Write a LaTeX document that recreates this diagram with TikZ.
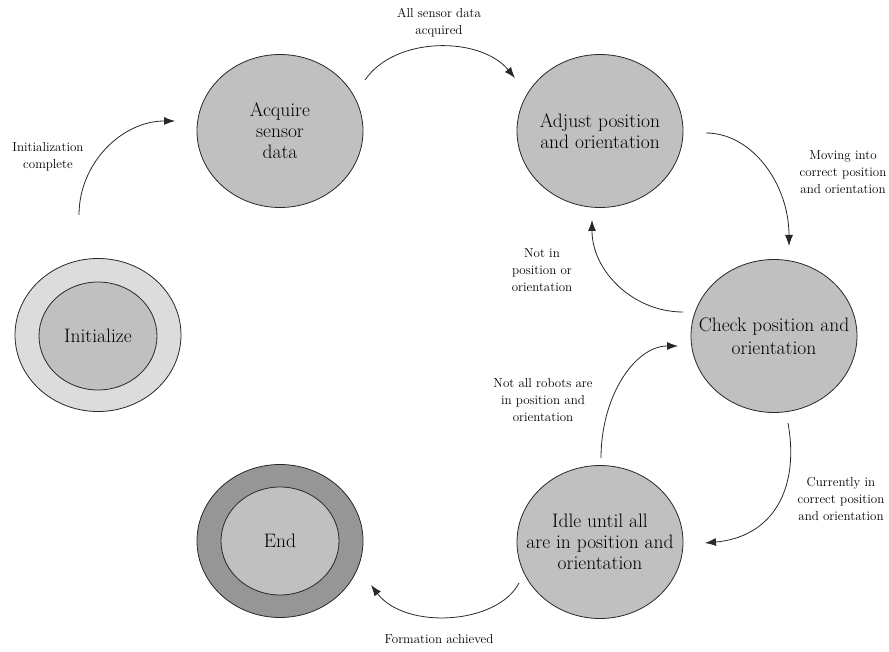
\documentclass[tikz,border=0pt]{standalone}
\usepackage{fontspec}
\usetikzlibrary{shapes.geometric,arrows.meta,calc}
\definecolor{stategray}{RGB}{192,192,192}
\definecolor{initgray}{RGB}{220,220,220}
\definecolor{endgray}{RGB}{150,150,150}
\definecolor{edgeblack}{RGB}{40,40,40}
\begin{document}
\begin{tikzpicture}[x=1pt,y=-1pt,
  stateshape/.style={ellipse, draw=edgeblack, line width=0.8pt, fill=stategray,
    minimum width=166pt, minimum height=153pt, inner sep=0pt, outer sep=0pt},
  innershape/.style={stateshape, minimum width=118pt, minimum height=108pt},
  nodetext/.style={font=\fontsize{19.5}{21}\selectfont, align=center, inner sep=0pt, text=black},
  edgelabel/.style={font=\fontsize{13}{17}\selectfont, align=center, inner sep=0pt, text=black},
  flow/.style={draw=edgeblack, line width=0.8pt, -{Latex[length=11pt,width=8pt]}}]
\useasboundingbox (0,0) rectangle (889,652);

% states
\node[stateshape, fill=initgray] (init) at (98,335) {};
\node[innershape, label={[nodetext]center:Initialize}] (initin) at (98,336) {};
\node[stateshape, label={[nodetext]center:Acquire\\sensor\\data}] (acq) at (280,131) {};
\node[stateshape, label={[nodetext]center:Adjust position\\and orientation}] (adj) at (600,131) {};
\node[stateshape, label={[nodetext, font=\fontsize{19.5}{23}\selectfont]center:Check position and\\orientation}] (check) at (774,336) {};
\node[stateshape, label={[nodetext]center:Idle until all\\are in position and\\orientation}] (idle) at (600,542) {};
\node[stateshape, fill=endgray] (end) at (280,541) {};
\node[innershape, label={[nodetext]center:End}] (endin) at (280,541) {};

% connectors
\draw[flow] ($(init)+(-19,-120)$) .. controls +(0,-52) and +(-53,0) .. ($(acq)+(-105,-10)$);
\draw[flow] ($(acq)+(85,-51)$) .. controls +(30,-44) and +(-35,-42) .. ($(adj)+(-85,-53)$);
\draw[flow] ($(adj)+(106,2)$) .. controls +(46,0) and +(0,-62) .. ($(check)+(15,-90)$);
\draw[flow] ($(check)+(-91,-24)$) .. controls +(-50,0) and +(0,51) .. ($(adj)+(-8,89)$);
\draw[flow] ($(idle)+(1,-84)$) .. controls +(0,-62) and +(-43,0) .. ($(check)+(-96,10)$);
\draw[flow] ($(check)+(14,87)$) .. controls +(12,67) and +(67,-6) .. ($(idle)+(105,1)$);
\draw[flow] ($(idle)+(-81,41)$) .. controls +(-22,42) and +(34,45) .. ($(end)+(91,44)$);

% labels
\node[edgelabel] (l1) at (48,157) {Initialization\\complete};
\node[edgelabel] (l2) at (439,23) {All sensor data\\acquired};
\node[edgelabel] (l3) at (843,172) {Moving into\\correct position\\and orientation};
\node[edgelabel] (l4) at (542,270) {Not in\\position or\\orientation};
\node[edgelabel] (l5) at (543,400) {Not all robots are\\in position and\\orientation};
\node[edgelabel] (l6) at (841,499) {Currently in\\correct position\\and orientation};
\node[edgelabel] (l7) at (439,639) {Formation achieved};
\end{tikzpicture}
\end{document}
